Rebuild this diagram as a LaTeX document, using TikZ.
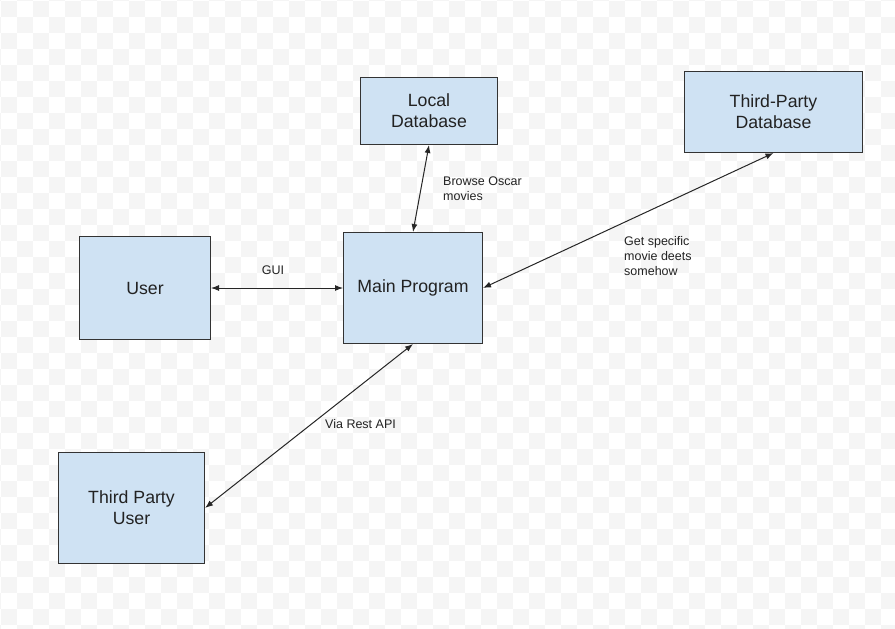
\documentclass[tikz,border=0pt]{standalone}
\usepackage{fontspec}
\setmainfont{Liberation Sans}
\usetikzlibrary{arrows.meta}
\definecolor{boxfill}{HTML}{CFE2F3}
\definecolor{boxline}{HTML}{333333}
\definecolor{chk}{HTML}{F5F5F5}
\definecolor{txt}{HTML}{222222}
\tikzset{
  blockbox/.style={draw=boxline, line width=1pt, fill=boxfill, inner sep=0pt, anchor=north west,
    text=txt, align=center, font=\fontsize{17.7}{21}\selectfont},
  link/.style={draw=black!85, line width=1pt, {Latex[length=8pt,width=6pt]}-{Latex[length=8pt,width=6pt]}},
  lbl/.style={text=txt, align=left, inner sep=0pt, font=\fontsize{12.5}{15}\selectfont}
}
\begin{document}
\begin{tikzpicture}[x=1pt,y=-1pt]
\useasboundingbox (0,0) rectangle (895,629);
\fill[white] (0,0) rectangle (895,629);
\begin{scope}
\clip (0,0) rectangle (895,629);
\foreach \i in {-1,...,56}{
  \foreach \j in {-1,...,39}{
    \ifodd\numexpr\i+\j+2\relax\else
      \fill[chk] (1+16*\i,1+16*\j) rectangle +(16,16);
    \fi
  }
}
\end{scope}

\node[blockbox, minimum width=137pt, minimum height=67pt] (ldb) at (360,77) {Local\\Database};
\node[blockbox, minimum width=178pt, minimum height=81pt] (tpdb) at (684,71) {Third-Party\\Database};
\node[blockbox, minimum width=131pt, minimum height=103pt] (user) at (79,236) {User};
\node[blockbox, minimum width=139pt, minimum height=111pt] (main) at (343,232) {Main Program};
\node[blockbox, minimum width=146pt, minimum height=111pt] (tpu) at (58,452) {Third Party\\User};

\draw[link] (ldb.south) -- (main.north);
\draw[link] (user.east) -- (main.west);
\draw[link] (main.east) -- (tpdb.south);
\draw[link] (main.south) -- (tpu.east);

\node[lbl, anchor=base] (lgui) at (273,274) {GUI};
\node[lbl, anchor=base west] (lbrowse) at (443,200) {Browse Oscar\\movies};
\node[lbl, anchor=base west] (lget) at (624,275) {Get specific\\movie deets\\somehow};
\node[lbl, anchor=base west] (lrest) at (325,428) {Via Rest API};
\end{tikzpicture}
\end{document}
